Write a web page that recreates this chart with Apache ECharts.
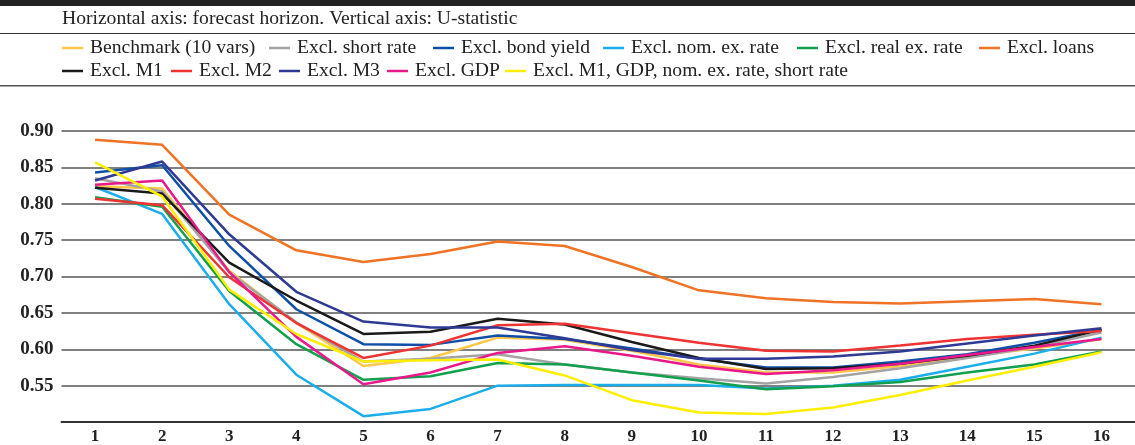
<!DOCTYPE html>
<html>
<head>
<meta charset="utf-8">
<script src="https://cdn.jsdelivr.net/npm/echarts@6/dist/echarts.min.js"></script>
<style>
  html, body { margin: 0; padding: 0; background: #fff; }
  #chart { width: 1135px; height: 445px; }
</style>
</head>
<body>
<div id="chart"></div>
<script>
// forecast horizons
const horizons = ['1', '2', '3', '4', '5', '6', '7', '8', '9', '10', '11', '12', '13', '14', '15', '16']

// U-statistic by model
const benchmark = [0.824, 0.821, 0.708, 0.636, 0.577, 0.588, 0.616, 0.613, 0.598, 0.579, 0.568, 0.568, 0.577, 0.590, 0.601, 0.614]
const exShortRate = [0.835, 0.817, 0.706, 0.637, 0.583, 0.587, 0.593, 0.579, 0.568, 0.560, 0.553, 0.562, 0.574, 0.588, 0.603, 0.623]
const exBondYield = [0.843, 0.853, 0.742, 0.655, 0.607, 0.606, 0.619, 0.614, 0.601, 0.587, 0.575, 0.575, 0.583, 0.593, 0.609, 0.627]
const exNomExRate = [0.823, 0.786, 0.662, 0.565, 0.508, 0.518, 0.550, 0.551, 0.551, 0.551, 0.546, 0.550, 0.558, 0.576, 0.594, 0.616]
const exRealExRate = [0.809, 0.796, 0.680, 0.607, 0.558, 0.563, 0.581, 0.579, 0.568, 0.557, 0.545, 0.549, 0.555, 0.568, 0.579, 0.597]
const exLoans = [0.888, 0.881, 0.785, 0.736, 0.720, 0.731, 0.748, 0.742, 0.713, 0.681, 0.670, 0.665, 0.663, 0.666, 0.669, 0.662]
const exM1 = [0.822, 0.814, 0.719, 0.667, 0.621, 0.624, 0.642, 0.634, 0.610, 0.588, 0.573, 0.574, 0.580, 0.591, 0.605, 0.627]
const exM2 = [0.807, 0.798, 0.699, 0.636, 0.588, 0.605, 0.633, 0.635, 0.622, 0.609, 0.598, 0.597, 0.605, 0.614, 0.620, 0.625]
const exM3 = [0.832, 0.858, 0.758, 0.679, 0.638, 0.630, 0.630, 0.615, 0.599, 0.587, 0.587, 0.590, 0.597, 0.608, 0.619, 0.629]
const exGDP = [0.826, 0.832, 0.706, 0.617, 0.552, 0.568, 0.595, 0.604, 0.591, 0.576, 0.566, 0.571, 0.580, 0.592, 0.603, 0.614]
const exCombo = [0.857, 0.810, 0.682, 0.621, 0.583, 0.585, 0.586, 0.564, 0.530, 0.513, 0.511, 0.520, 0.537, 0.557, 0.576, 0.596]

const seriesNames = [
  'Benchmark (10 vars)', 'Excl. short rate', 'Excl. bond yield', 'Excl. nom. ex. rate',
  'Excl. real ex. rate', 'Excl. loans', 'Excl. M1', 'Excl. M2', 'Excl. M3', 'Excl. GDP',
  'Excl. M1, GDP, nom. ex. rate, short rate'
]
const seriesData = [
  benchmark, exShortRate, exBondYield, exNomExRate, exRealExRate, exLoans,
  exM1, exM2, exM3, exGDP, exCombo
]
const seriesColors = [
  '#FFC64C', '#A3A3A3', '#0F4FA8', '#1BAEEA', '#11A04E', '#F07224',
  '#1A1A1A', '#EE3333', '#2E3A94', '#E8198B', '#FFEE00'
]

const serif = '"Liberation Serif", "Times New Roman", serif'

// legend item positions (symbol left edge, row top)
const legendPos = [
  [62, 38], [269, 38], [433, 38], [603, 38], [797, 38], [979, 38],
  [62, 61], [171, 61], [279, 61], [387, 61], [505, 61]
]

const chart = echarts.init(document.getElementById('chart'))

chart.setOption({
  backgroundColor: '#fff',
  animation: false,
  graphic: [
    { type: 'rect', left: 0, top: 0, shape: { width: 1135, height: 6 }, style: { fill: '#222' } },
    {
      type: 'text', left: 62, top: 9,
      style: { text: 'Horizontal axis: forecast horizon. Vertical axis: U-statistic', font: '19.6px ' + serif, fill: '#222' }
    },
    { type: 'rect', left: 0, top: 33, shape: { width: 1135, height: 1 }, style: { fill: '#333' } },
    { type: 'rect', left: 0, top: 85, shape: { width: 1135, height: 1.5 }, style: { fill: '#555' } }
  ],
  legend: seriesNames.map((name, i) => ({
    data: [name],
    left: legendPos[i][0],
    top: legendPos[i][1],
    padding: 0,
    icon: 'rect',
    itemWidth: 21,
    itemHeight: 2.5,
    selectedMode: false,
    textStyle: { fontFamily: serif, fontSize: 19.6, color: '#222', padding: [0, 0, 0, 2] }
  })),
  grid: { left: 61.5, right: 0, top: 131, bottom: 21 },
  xAxis: {
    type: 'category',
    data: horizons,
    boundaryGap: true,
    axisLine: { lineStyle: { color: '#333', width: 2 } },
    axisTick: { alignWithLabel: true, inside: true, length: 6, lineStyle: { color: '#555', width: 1.5 } },
    axisLabel: { fontFamily: serif, fontWeight: 'bold', fontSize: 17, color: '#222', margin: 6 }
  },
  yAxis: {
    type: 'value',
    min: 0.5,
    max: 0.9,
    interval: 0.05,
    axisLine: { show: false },
    axisTick: { show: false },
    axisLabel: {
      fontFamily: serif, fontWeight: 'bold', fontSize: 19, color: '#222', margin: 8,
      formatter: v => (v <= 0.5 ? '' : v.toFixed(2))
    },
    splitLine: { lineStyle: { color: '#555', width: 1.5 } }
  },
  series: seriesNames.map((name, i) => ({
    name,
    type: 'line',
    data: seriesData[i],
    symbol: 'none',
    color: seriesColors[i],
    lineStyle: { width: 2.5, color: seriesColors[i] }
  }))
})
</script>
</body>
</html>
